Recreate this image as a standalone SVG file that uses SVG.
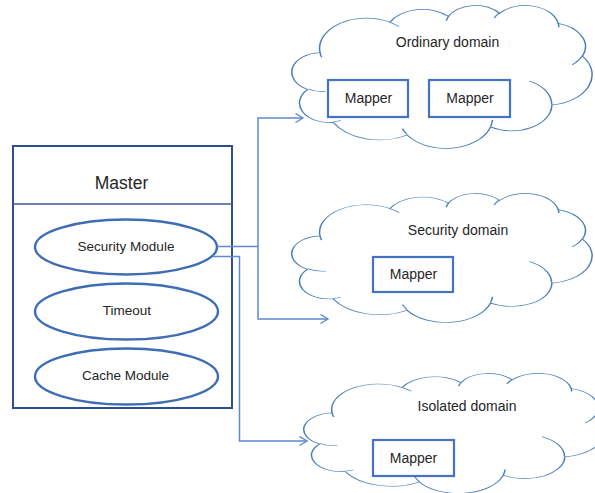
<svg xmlns="http://www.w3.org/2000/svg" xmlns:xlink="http://www.w3.org/1999/xlink" width="595" height="493" viewBox="0 0 595 493">
  <style>
    .label { font-family: "Liberation Sans", Arial, sans-serif; fill: #262626; text-anchor: middle; }
    .module { fill: #ffffff; stroke: #3e6db5; stroke-width: 2.4; }
    .mapper { fill: #ffffff; stroke: #4472c4; stroke-width: 2.2; }
    .cloud { fill: #ffffff; stroke: #4a7ebb; stroke-width: 2.2; vector-effect: non-scaling-stroke; }
    .crease { fill: none; stroke: #4a7ebb; stroke-width: 2.2; vector-effect: non-scaling-stroke; }
    .link { fill: none; stroke: #5b8bd0; stroke-width: 1.5; }
  </style>
  <defs>
    <!-- cloud outline in a 432 x 432 unit box -->
    <path id="cloud-outline" d="M39,143.7
      A67.53,91.9 0 0 1 140.06,52.01
      A53.33,72.67 0 0 1 224.57,34.31
      A43.65,59.45 0 0 1 298.34,24.8
      A48.57,65.95 0 0 1 383.19,55.74
      A53.33,72.73 0 0 1 418.19,154.6
      A67.75,92.2 0 0 1 374.03,302.02
      A57.85,78.67 0 0 1 285.54,368.12
      A67.52,92.15 0 0 1 164.79,392.64
      A77.2,105.43 0 0 1 58,354.7
      A43.6,59.18 0 0 1 21.1,255.46
      A43.45,59.45 0 0 1 39,143.7 Z"/>
    <!-- inner fold lines of the cloud -->
    <path id="cloud-creases" d="M46.93,261.77 A43.45,59.45 0 0 1 21.59,253.79
      M69.28,348.99 A43.6,59.18 0 0 1 58.2,352.81
      M164.78,390.9 A67.52,92.15 0 0 1 158.1,373.49
      M288.27,347.51 A67.52,92.15 0 0 1 285.6,366.6
      M341.29,229.54 A57.85,78.67 0 0 1 373.78,300.9
      M417.98,153.54 A53.33,72.73 0 0 1 403.5,180.29
      M383.24,54.26 A48.57,65.95 0 0 1 384,66.9
      M290.78,39.52 A48.57,65.95 0 0 1 298.21,23.39
      M221.41,47.2 A43.65,59.45 0 0 1 225,33.31
      M140,51.92 A67.53,91.9 0 0 1 153,65.4
      M41.27,157.89 A67.53,91.9 0 0 1 39,143.71"/>
    <marker id="open-arrow" markerWidth="10" markerHeight="12" refX="8" refY="5" orient="auto" markerUnits="userSpaceOnUse">
      <path d="M0.5,0.5 L8,5 L0.5,9.5" fill="none" stroke="#5b8bd0" stroke-width="1.4"/>
    </marker>
  </defs>

  <!-- Master node -->
  <g id="master">
    <rect x="13" y="146" width="219" height="262" fill="#ffffff" stroke="#2e4f8f" stroke-width="2"/>
    <line x1="13" y1="204" x2="232" y2="204" stroke="#3d5a99" stroke-width="1.6"/>
    <text class="label" x="121.5" y="189" font-size="17.5">Master</text>
  </g>

  <g id="security-module">
    <ellipse class="module" cx="126" cy="247" rx="91" ry="27.5"/>
    <text class="label" x="126" y="251" font-size="13.5">Security Module</text>
  </g>

  <g id="timeout">
    <ellipse class="module" cx="126.5" cy="311.5" rx="91.5" ry="28"/>
    <text class="label" x="127" y="315" font-size="13.5">Timeout</text>
  </g>

  <g id="cache-module">
    <ellipse class="module" cx="126.5" cy="376.5" rx="91.5" ry="28"/>
    <text class="label" x="125.5" y="380" font-size="13.5">Cache Module</text>
  </g>

  <!-- Domains -->
  <g id="ordinary-domain">
    <g transform="translate(293,5) scale(0.6921,0.331)">
      <use xlink:href="#cloud-outline" class="cloud"/>
      <use xlink:href="#cloud-creases" class="crease"/>
    </g>
    <text class="label" x="447.5" y="47" font-size="14">Ordinary domain</text>
  </g>
  <g id="ordinary-mapper-1">
    <rect class="mapper" x="328" y="80" width="80" height="37"/>
    <text class="label" x="368.5" y="103" font-size="14">Mapper</text>
  </g>
  <g id="ordinary-mapper-2">
    <rect class="mapper" x="429" y="80" width="81" height="37"/>
    <text class="label" x="470" y="103" font-size="14">Mapper</text>
  </g>

  <g id="security-domain">
    <g transform="translate(293,193) scale(0.6921,0.2986)">
      <use xlink:href="#cloud-outline" class="cloud"/>
      <use xlink:href="#cloud-creases" class="crease"/>
    </g>
    <text class="label" x="458" y="234.5" font-size="14">Security domain</text>
  </g>
  <g id="security-mapper">
    <rect class="mapper" x="373" y="257" width="80" height="35"/>
    <text class="label" x="413.5" y="279" font-size="14">Mapper</text>
  </g>

  <g id="isolated-domain">
    <g transform="translate(305,373) scale(0.6944,0.2778)">
      <use xlink:href="#cloud-outline" class="cloud"/>
      <use xlink:href="#cloud-creases" class="crease"/>
    </g>
    <text class="label" x="467" y="410.5" font-size="14">Isolated domain</text>
  </g>
  <g id="isolated-mapper">
    <rect class="mapper" x="373" y="440" width="81" height="36"/>
    <text class="label" x="413.5" y="462.5" font-size="14">Mapper</text>
  </g>

  <!-- Connectors -->
  <g id="connectors">
    <polyline class="link" points="217,246.5 258,246.5 258,118 303,118" marker-end="url(#open-arrow)"/>
    <polyline class="link" points="258,246.5 258,319 328,319" marker-end="url(#open-arrow)"/>
    <polyline class="link" points="213,256.5 239.5,256.5 239.5,441 307,441" marker-end="url(#open-arrow)"/>
  </g>
</svg>
